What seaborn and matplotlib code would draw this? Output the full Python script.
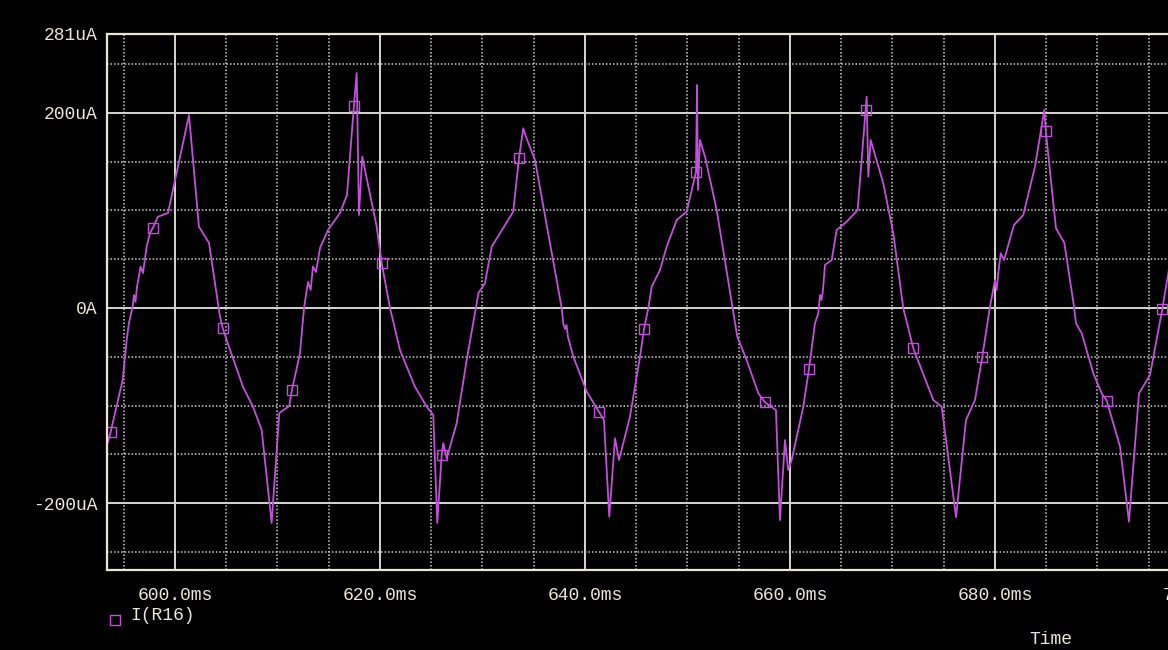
import numpy as np
import pandas as pd
import matplotlib
matplotlib.use("Agg")
import matplotlib.pyplot as plt
import seaborn as sns
from matplotlib.lines import Line2D
from matplotlib.ticker import MultipleLocator, FixedLocator

# trace of I(R16) (time in ms, current in uA)
time_ms = [593.37, 593.73, 594.90, 595.29, 595.51, 595.87, 596.00, 596.15, 596.29, 596.65,
           596.88, 597.24, 597.56, 597.85, 598.34, 599.32, 601.37, 602.34, 603.32, 604.39,
           604.65, 605.04, 606.63, 607.61, 608.46, 609.43, 610.18, 611.15, 611.41, 612.20,
           612.59, 612.98, 613.24, 613.46, 613.76, 614.15, 614.93, 616.10, 616.78, 617.46,
           617.73, 617.95, 618.27, 619.68, 620.17, 620.98, 621.95, 623.41, 624.56, 625.20,
           625.59, 626.02, 626.18, 626.51, 627.48, 628.46, 629.41, 629.61, 630.24, 630.90,
           633.00, 633.56, 633.98, 634.24, 635.12, 637.73, 637.88, 638.05, 638.20, 638.34,
           638.86, 640.17, 641.40, 641.85, 642.37, 642.93, 643.32, 644.39, 645.37, 645.76,
           646.18, 646.51, 647.32, 647.97, 648.95, 649.92, 650.83, 650.93, 651.02, 651.22,
           651.71, 652.85, 654.41, 654.86, 655.77, 656.91, 657.56, 658.63, 659.02, 659.51,
           659.83, 660.16, 661.30, 661.85, 662.44, 662.76, 662.93, 663.07, 663.22, 663.41,
           664.07, 664.55, 665.53, 666.60, 667.38, 667.48, 667.64, 667.87, 669.10, 670.08,
           671.05, 672.03, 673.98, 674.80, 676.20, 677.17, 678.05, 678.76, 679.51, 680.00,
           680.16, 680.32, 680.56, 680.88, 681.85, 682.76, 683.90, 684.81, 684.95, 685.95,
           686.76, 687.71, 687.90, 688.46, 689.59, 690.41, 690.90, 692.20, 693.07, 694.05,
           695.12, 696.32, 696.85, 697.60]

current_ua = [-140.5, -126.9, -73.8, -32.8, -15.4, 1.3, 13.3, 6.2, 21.5, 42.4,
              35.9, 62.9, 76.9, 82.4, 93.6, 97.4, 197.9, 83.4, 66.7, -8.9,
              -20.2, -32.8, -80.7, -101.2, -125.1, -220.5, -107.7, -100.5, -84.1, -46.2,
              0.0, 26.7, 18.5, 42.4, 36.9, 61.5, 80.0, 97.4, 115.9, 207.5,
              241.0, 95.4, 155.2, 83.4, 45.8, 0.0, -43.1, -80.7, -101.2, -109.7,
              -220.5, -150.8, -138.8, -154.2, -118.3, -53.3, 3.1, 15.4, 25.3, 62.9,
              98.8, 153.5, 184.3, 175.7, 151.8, 0.0, -15.7, -21.5, -17.4, -29.7,
              -49.9, -85.8, -107.0, -114.9, -214.1, -133.6, -155.9, -111.5, -49.9, -21.5,
              0.0, 21.8, 39.0, 62.9, 90.3, 98.8, 139.5, 228.7, 121.0, 172.3,
              155.2, 100.5, 0.0, -29.4, -53.3, -87.5, -96.7, -104.6, -217.4, -135.4,
              -166.2, -155.9, -101.2, -62.6, -15.7, -5.4, 13.3, 8.2, 18.5, 44.1,
              49.2, 80.0, 88.5, 100.5, 203.1, 216.7, 134.7, 172.3, 127.9, 76.6,
              0.0, -41.3, -94.4, -101.2, -214.4, -114.9, -94.4, -49.9, 1.3, 28.7,
              18.5, 35.6, 56.1, 49.2, 85.1, 95.4, 144.9, 203.1, 181.8, 81.7,
              67.0, 1.3, -15.7, -25.9, -67.0, -87.5, -95.1, -142.3, -219.2, -87.5,
              -68.7, -1.3, 32.1, 80.0]

# samples that carry the trace symbol
marked_ms = [593.73, 597.85, 604.65, 611.41, 617.46, 620.17, 626.02, 633.56, 641.40,
             645.76, 650.83, 657.56, 661.85, 667.38, 672.03, 678.76, 684.95, 690.90, 696.32]

x_ticks = [600, 620, 640, 660, 680, 700]
x_labels = ["600.0ms", "620.0ms", "640.0ms", "660.0ms", "680.0ms", "700.0ms"]
y_ticks = [-200, 0, 200, 281]
y_labels = ["-200uA", "0A", "200uA", "281uA"]

df = pd.DataFrame({"time": time_ms, "current": current_ua})
mark_idx = [time_ms.index(t) for t in marked_ms]

sns.set_style("dark")
plt.rcParams["font.family"] = ["Liberation Mono", "DejaVu Sans Mono"]

trace = "#c44fdc"
ink = "#ece6d6"

fig = plt.figure(figsize=(11.68, 6.5), dpi=100, facecolor="black")
ax = fig.add_axes([107 / 1168, 1 - 570 / 650, 1093 / 1168, 536 / 650])
ax.set_facecolor("black")

sns.lineplot(data=df, x="time", y="current", ax=ax, color=trace, linewidth=1.3,
             sort=False, estimator=None, legend=False,
             marker="s", markevery=mark_idx, markersize=7,
             markerfacecolor="none", markeredgecolor=trace, markeredgewidth=1.0)

ax.set_xlim(593.37, 700)
ax.set_ylim(-268.7, 281)

ax.xaxis.set_major_locator(FixedLocator(x_ticks))
ax.set_xticklabels(x_labels)
ax.xaxis.set_minor_locator(MultipleLocator(5))
ax.yaxis.set_major_locator(FixedLocator(y_ticks))
ax.set_yticklabels(y_labels)
ax.yaxis.set_minor_locator(FixedLocator([-250, -150, -100, -50, 50, 100, 150, 250]))

ax.grid(which="major", color="#d6d6ce", linewidth=1.4, linestyle="-")
ax.grid(which="minor", color="#cfcfc8", linewidth=1.1, linestyle=(0, (1, 1.3)))
ax.set_axisbelow(True)

ax.tick_params(axis="x", which="major", colors=ink, length=8, width=1.2,
               direction="out", labelsize=13, pad=4)
ax.tick_params(axis="y", which="major", colors=ink, length=5, width=1.2,
               direction="out", labelsize=13, pad=2)
ax.tick_params(which="minor", length=0)

for side in ["left", "top", "bottom"]:
    ax.spines[side].set_color(ink)
    ax.spines[side].set_linewidth(1.6)
ax.spines["right"].set_visible(False)

ax.set_xlabel("")
ax.set_ylabel("")

# legend entry and axis title like the probe window
fig.add_artist(Line2D([115 / 1168], [1 - 620 / 650], marker="s", markersize=7,
                      markerfacecolor="none", markeredgecolor=trace, linestyle="none"))
fig.text(130 / 1168, 1 - 615 / 650, "I(R16)", color=ink, fontsize=13, va="center")
fig.text(1051 / 1168, 1 - 639 / 650, "Time", color=ink, fontsize=13, ha="center", va="center")

fig.savefig("out.png", dpi=100, facecolor="black")
